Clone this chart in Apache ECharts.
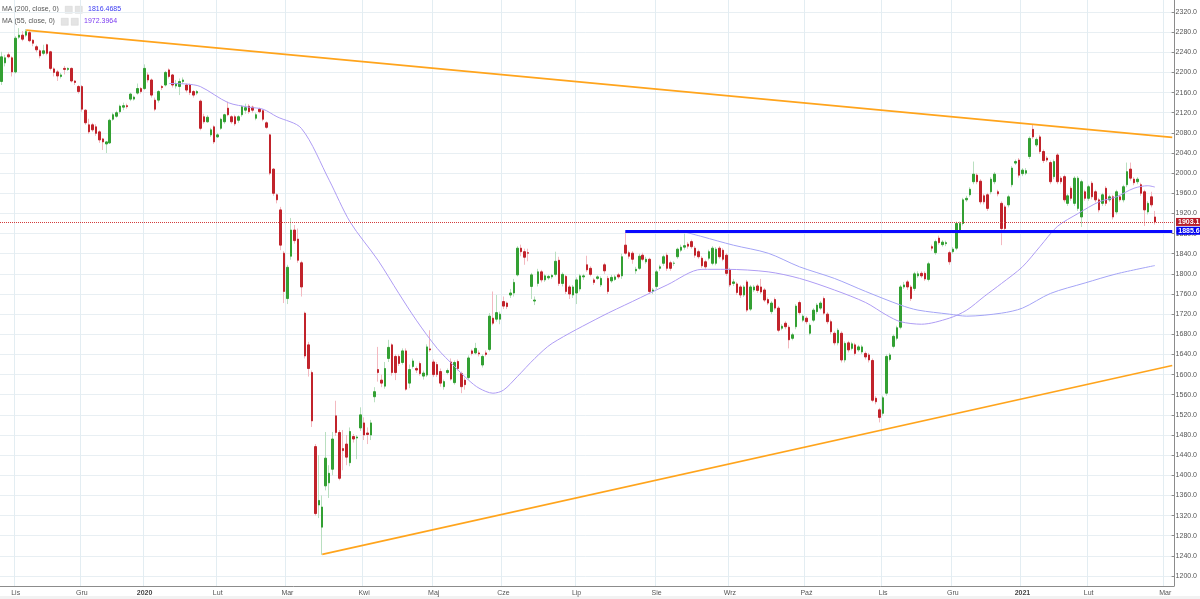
<!DOCTYPE html>
<html><head><meta charset="utf-8">
<script src="https://cdn.jsdelivr.net/npm/echarts@6/dist/echarts.min.js"></script>
<style>html,body{margin:0;padding:0;background:#fff}#c{width:1200px;height:599px}</style>
</head><body><div id="c"></div>
<script>
// ---- data ----
const startDay = '2019-10-28', endDay = '2021-02-26';
const holidays = ['2019-11-01','2019-11-11','2019-12-24','2019-12-25','2019-12-26','2019-12-31','2020-01-01','2020-01-06','2020-04-10','2020-04-13','2020-05-01','2020-06-11','2020-11-11','2020-12-24','2020-12-25','2020-12-31','2021-01-01','2021-01-06'];
const futureDays = ['2021-02-27','2021-02-28','2021-03-01','2021-03-02','2021-03-03'];
const monthNames = ['Sty','Lut','Mar','Kwi','Maj','Cze','Lip','Sie','Wrz','Paź','Lis','Gru'];

const openP = [
2182,2219,2235,2229,2201,2270,2274,2274,2279,2264,
2251,2243,2238,2255,2241,2207,2201,2192,2208,2206,
2208,2183,2172,2172,2125,2096,2096,2092,2082,2068,
2058,2060,2107,2113,2122,2131,2134,2147,2147,2159,
2168,2168,2195,2185,2145,2145,2172,2175,2205,2195,
2173,2172,2182,2175,2175,2162,2159,2143,2112,2102,
2076,2092,2072,2089,2102,2129,2112,2112,2105,2116,
2125,2133,2131,2109,2127,2124,2100,2076,2008,1957,
1927,1841,1751,1835,1887,1869,1822,1722,1659,1604,
1457,1341,1297,1379,1385,1412,1518,1485,1453,1462,
1425,1477,1474,1494,1504,1484,1480,1556,1610,1589,
1577,1632,1659,1636,1636,1624,1647,1583,1616,1612,
1622,1597,1599,1651,1625,1620,1606,1576,1604,1625,
1584,1626,1602,1589,1594,1647,1643,1643,1619,1643,
1650,1712,1710,1710,1745,1742,1758,1762,1798,1851,
1844,1842,1775,1746,1781,1804,1788,1792,1794,1799,
1827,1781,1795,1774,1758,1762,1770,1794,1818,1811,
1788,1791,1778,1818,1791,1786,1789,1798,1796,1857,
1842,1841,1806,1811,1837,1824,1829,1765,1775,1811,
1821,1837,1822,1821,1834,1847,1853,1859,1864,1851,
1844,1831,1824,1831,1821,1821,1851,1847,1837,1808,
1781,1780,1774,1758,1784,1730,1768,1776,1774,1768,
1749,1725,1749,1732,1692,1702,1694,1672,1695,1743,
1708,1712,1682,1708,1725,1732,1751,1720,1705,1682,
1663,1682,1629,1663,1652,1659,1649,1645,1642,1639,
1628,1553,1530,1523,1563,1630,1656,1672,1694,1774,
1784,1774,1771,1796,1801,1801,1789,1854,1842,1871,
1858,1860,1842,1844,1851,1887,1900,1947,1957,1983,
1996,1984,1955,1957,1963,1983,1963,1940,1933,1937,
1977,2020,2026,1999,2000,2033,2087,2056,2072,2043,
2030,2021,1993,2036,1990,1993,1940,1970,1940,1930,
1913,1963,1950,1980,1963,1947,1940,1970,1947,1953,
1923,1953,1947,1977,2008,1988,1983,1977,1963,1923,
1953,1913];
const closeP = [
2231,2229,2231,2201,2268,2274,2266,2281,2263,2258,
2245,2233,2243,2238,2208,2200,2193,2195,2206,2208,
2183,2180,2162,2127,2100,2082,2086,2079,2066,2062,
2062,2105,2116,2120,2133,2134,2132,2157,2151,2168,
2162,2208,2185,2155,2127,2162,2170,2200,2192,2175,
2178,2182,2185,2165,2160,2155,2162,2089,2102,2111,
2086,2062,2076,2107,2116,2116,2102,2098,2112,2132,
2130,2122,2125,2116,2122,2107,2091,2000,1960,1947,
1857,1765,1813,1887,1866,1827,1774,1637,1612,1508,
1324,1350,1337,1434,1404,1472,1485,1394,1449,1436,
1487,1472,1476,1520,1480,1481,1504,1566,1604,1583,
1612,1654,1604,1604,1622,1647,1571,1610,1627,1609,
1602,1603,1655,1649,1600,1600,1583,1586,1608,1591,
1624,1612,1576,1580,1633,1642,1652,1641,1636,1640,
1716,1702,1723,1720,1736,1735,1762,1783,1851,1844,
1833,1841,1798,1748,1804,1788,1796,1795,1797,1825,
1781,1799,1765,1760,1774,1788,1796,1796,1808,1799,
1783,1794,1791,1806,1765,1793,1794,1794,1834,1841,
1835,1829,1809,1835,1829,1829,1765,1768,1804,1814,
1834,1811,1811,1821,1849,1853,1856,1855,1854,1837,
1834,1816,1814,1844,1851,1849,1834,1829,1801,1778,
1784,1763,1758,1774,1728,1774,1774,1767,1764,1748,
1742,1742,1732,1688,1696,1695,1669,1679,1736,1723,
1716,1705,1698,1728,1738,1742,1722,1705,1685,1663,
1688,1629,1662,1649,1661,1642,1655,1655,1635,1629,
1549,1546,1515,1554,1636,1639,1676,1693,1774,1778,
1774,1751,1800,1800,1796,1790,1820,1851,1864,1862,
1863,1862,1824,1849,1900,1900,1947,1950,1968,1998,
1983,1943,1943,1930,1988,1998,1959,1890,1890,1953,
2010,2023,1996,2006,2005,2069,2072,2067,2043,2025,
2026,1983,2023,1983,1983,1947,1955,1950,1990,1990,
1983,1950,1973,1953,1947,1927,1957,1940,1953,1913,
1963,1947,1973,2003,1990,1981,1988,1960,1927,1940,
1937,1903.1];
const highP = [
2241,2235,2240,2232,2272,2288,2282,2286,2284,2266,
2255,2246,2255,2257,2243,2210,2205,2199,2213,2210,
2210,2185,2175,2175,2127,2108,2100,2097,2085,2070,
2064,2108,2120,2124,2136,2140,2138,2160,2154,2178,
2171,2216,2200,2188,2150,2165,2175,2203,2208,2197,
2185,2188,2190,2178,2178,2165,2165,2146,2118,2115,
2090,2095,2080,2110,2118,2142,2115,2116,2115,2135,
2138,2137,2134,2120,2130,2127,2103,2078,2010,1960,
1933,1845,1818,1911,1897,1890,1826,1725,1665,1608,
1462,1440,1360,1486,1420,1486,1548,1490,1490,1480,
1495,1482,1480,1535,1515,1495,1510,1575,1655,1600,
1625,1669,1662,1640,1640,1652,1652,1620,1632,1616,
1626,1608,1660,1688,1630,1625,1612,1590,1612,1632,
1628,1630,1606,1594,1638,1650,1663,1648,1640,1648,
1722,1765,1758,1725,1755,1745,1770,1790,1855,1858,
1850,1850,1802,1755,1810,1808,1800,1798,1800,1844,
1834,1803,1798,1778,1778,1793,1800,1800,1836,1815,
1792,1797,1795,1822,1796,1798,1798,1802,1840,1884,
1846,1845,1814,1840,1842,1834,1832,1772,1808,1818,
1838,1842,1826,1825,1852,1858,1880,1863,1868,1855,
1848,1835,1828,1848,1855,1853,1855,1851,1841,1812,
1790,1784,1778,1778,1788,1778,1778,1780,1790,1772,
1753,1746,1753,1736,1700,1706,1698,1683,1740,1747,
1720,1716,1702,1732,1742,1746,1755,1724,1709,1686,
1692,1686,1666,1667,1665,1663,1659,1659,1646,1643,
1632,1557,1534,1558,1640,1643,1680,1697,1778,1784,
1788,1778,1804,1805,1805,1805,1824,1858,1868,1876,
1867,1866,1846,1853,1904,1904,1951,1955,1972,2023,
2000,1988,1959,1961,1992,2002,1967,1944,1937,1957,
2014,2027,2030,2010,2010,2073,2096,2071,2076,2047,
2034,2025,2027,2040,1994,1997,1959,1974,1994,1994,
1987,1967,1977,1984,1967,1951,1961,1974,1957,1957,
1967,1957,1977,2021,2021,1992,1992,1981,1967,1944,
1963,1925];
const lowP = [
2175,2212,2228,2192,2198,2266,2262,2270,2260,2252,
2240,2228,2234,2234,2204,2192,2183,2188,2196,2203,
2180,2175,2158,2122,2096,2078,2082,2074,2060,2046,
2040,2058,2104,2110,2118,2125,2128,2143,2144,2156,
2158,2165,2180,2150,2123,2140,2165,2172,2188,2170,
2168,2155,2178,2160,2155,2150,2155,2085,2098,2100,
2072,2058,2070,2086,2098,2113,2098,2094,2100,2112,
2118,2118,2120,2105,2119,2103,2088,1996,1955,1940,
1847,1742,1740,1828,1860,1822,1755,1632,1596,1496,
1320,1315,1242,1370,1355,1400,1478,1390,1410,1420,
1418,1465,1432,1488,1470,1462,1470,1545,1586,1575,
1572,1625,1598,1589,1617,1620,1568,1573,1612,1603,
1598,1590,1595,1645,1595,1595,1576,1570,1600,1588,
1580,1608,1563,1570,1590,1638,1640,1636,1614,1636,
1646,1698,1705,1700,1730,1730,1752,1755,1795,1835,
1818,1825,1750,1738,1775,1783,1784,1788,1790,1795,
1776,1775,1760,1750,1752,1740,1765,1788,1804,1795,
1778,1788,1774,1800,1760,1782,1786,1790,1790,1838,
1830,1820,1800,1808,1825,1820,1760,1760,1770,1806,
1816,1806,1806,1816,1830,1843,1848,1850,1850,1832,
1830,1812,1810,1827,1817,1817,1830,1825,1796,1774,
1776,1758,1752,1754,1724,1726,1764,1762,1760,1744,
1738,1720,1728,1684,1688,1690,1652,1668,1690,1718,
1704,1700,1678,1704,1720,1728,1718,1700,1680,1658,
1658,1624,1624,1644,1648,1638,1645,1641,1630,1624,
1545,1541,1505,1518,1558,1626,1652,1668,1690,1770,
1768,1746,1766,1792,1792,1786,1785,1846,1838,1858,
1854,1855,1818,1840,1847,1883,1896,1943,1953,1978,
1978,1938,1938,1925,1958,1978,1954,1857,1886,1932,
1972,2016,1991,1994,1996,2028,2068,2052,2038,2020,
2022,1978,1988,1978,1978,1942,1935,1945,1935,1925,
1893,1945,1945,1948,1942,1922,1935,1935,1943,1908,
1918,1943,1942,1972,1985,1976,1978,1955,1895,1918,
1932,1898];

// moving averages at sample bars (index, value)
const ma55Idx = [48,53,57,65,71,75,79,86,94,100,108,114,119,125,130,134,137,141,144,148,153,158,172,181,191,201,208,220,229,239,248,254,258,264,272,277,282,287,293,298,303,309,315,320,325,329,331];
const ma55Val = [2178,2177,2172,2140,2131,2127,2112,2089,1986,1903,1827,1761,1708,1652,1616,1589,1573,1563,1569,1596,1632,1662,1715,1745,1778,1809,1809,1804,1791,1768,1743,1718,1705,1700,1712,1728,1755,1781,1814,1854,1894,1920,1943,1953,1970,1975,1972.3964];
const ma200Idx = [194,201,210,220,229,239,248,258,263,272,277,287,293,301,311,320,331];
const ma200Val = [1887,1874,1857,1841,1814,1791,1765,1738,1728,1720,1716,1722,1732,1761,1782,1800,1816.4685];
const ma200Last = 1816.4685, ma55Last = 1972.3964;

const lastClose = 1903.1;
const supportLevel = 1885.6, supportFromIdx = 179, lineToIdx = 336;
const trendTop = [[7, 2284], [336, 2071]];
const trendBottom = [[92, 1243], [336, 1618]];
const yMin = 1200, yMax = 2320, yStep = 40;

// ---- build categories ----
function buildDates() {
  const hol = new Set(holidays), out = [];
  let d = new Date(startDay + 'T00:00:00Z');
  const end = new Date(endDay + 'T00:00:00Z');
  while (d <= end) {
    const wd = d.getUTCDay(), s = d.toISOString().slice(0, 10);
    if (wd !== 0 && wd !== 6 && !hol.has(s)) out.push(s);
    d = new Date(d.getTime() + 86400000);
  }
  return out.concat(futureDays);
}
const dates = buildDates();
const isMonthStart = i => i > 0 && dates[i].slice(0, 7) !== dates[i - 1].slice(0, 7);

const ohlc = openP.map((o, i) => [o, closeP[i], lowP[i], highP[i]]);
const bodies = openP.map((o, i) => [o, closeP[i], Math.min(o, closeP[i]), Math.max(o, closeP[i])]);
function sparse(idx, val) {
  const a = new Array(openP.length).fill(null);
  idx.forEach((k, j) => { a[k] = val[j]; });
  return a;
}

// pixel layout: labels grid (1200 at y576, 2320 at y12); data grid top 0..586
const pxPerUnit = 564 / (yMax - yMin);
const dMin = yMin - 10 / pxPerUnit, dMax = dMin + 586 / pxPerUnit;

const chart = echarts.init(document.getElementById('c'), null, { renderer: 'canvas' });
const tagLabel = (txt, bg, dist) => ({ show: true, position: 'end', distance: dist, formatter: () => txt, color: '#fff', backgroundColor: bg, padding: [1, 2, 0, 2], fontSize: 7, fontWeight: 'bold' });
const option = {
  animation: false,
  textStyle: { fontFamily: 'Liberation Sans, Arial, sans-serif' },
  grid: [
    { left: 0, right: 26, top: 0, bottom: 13 },
    { left: 0, right: 26, top: 12, bottom: 23 }
  ],
  xAxis: [
    {
      type: 'category', gridIndex: 0, data: dates, boundaryGap: true,
      axisLine: { lineStyle: { color: '#8c8c8c', width: 1 } },
      axisTick: { interval: (i) => isMonthStart(i), alignWithLabel: true, length: 3, lineStyle: { color: '#8c8c8c' } },
      axisLabel: {
        interval: (i) => isMonthStart(i), margin: 4, fontSize: 7, color: '#555',
        formatter: (v) => { const m = +v.slice(5, 7) - 1; return m === 0 ? '{b|' + v.slice(0, 4) + '}' : monthNames[m]; },
        rich: { b: { fontWeight: 'bold', fontSize: 7, color: '#444' } }
      },
      splitLine: { show: true, interval: (i) => isMonthStart(i), lineStyle: { color: '#e3edf2', width: 1 } }
    },
    { type: 'value', gridIndex: 1, min: 1, max: 2, show: false }
  ],
  yAxis: [
    {
      type: 'value', gridIndex: 0, position: 'right', min: dMin, max: dMax,
      axisLine: { show: true, onZero: false, lineStyle: { color: '#8c8c8c' } },
      axisTick: { show: false }, axisLabel: { show: false }, splitLine: { show: false }
    },
    {
      type: 'value', gridIndex: 1, position: 'right', min: yMin, max: yMax, interval: yStep,
      axisLine: { show: false, onZero: false },
      axisTick: { show: true, length: 3, lineStyle: { color: '#8c8c8c' } },
      axisLabel: { margin: 4, fontSize: 7, color: '#555', formatter: v => v.toFixed(1) },
      splitLine: { show: true, lineStyle: { color: '#e8eff3', width: 1 } }
    }
  ],
  series: [
    {
      name: 'wicks', type: 'candlestick', xAxisIndex: 0, yAxisIndex: 0, data: ohlc,
      barWidth: 1, clip: false, z: 2,
      itemStyle: { color: '#b9dfc0', color0: '#f3b9c0', borderColor: '#b9dfc0', borderColor0: '#f3b9c0', borderWidth: 1 },
      markLine: {
        symbol: ['none', 'none'], silent: true, animation: false,
        data: [
          [{ coord: trendTop[0] }, { coord: trendTop[1], lineStyle: { color: '#ffa41c', width: 1.6, type: 'solid' }, label: { show: false } }],
          [{ coord: trendBottom[0] }, { coord: trendBottom[1], lineStyle: { color: '#ffa41c', width: 1.6, type: 'solid' }, label: { show: false } }],
          { yAxis: lastClose, lineStyle: { color: '#d23c3c', width: 1, type: [1, 1] }, label: tagLabel(lastClose.toFixed(1), '#b81f2b', 2) },
          [{ coord: [supportFromIdx, supportLevel] }, { coord: [lineToIdx, supportLevel], lineStyle: { color: '#0a0aff', width: 3, type: 'solid' }, label: tagLabel(supportLevel.toFixed(1), '#0000f0', 4) }]
        ]
      }
    },
    {
      name: 'bodies', type: 'candlestick', xAxisIndex: 0, yAxisIndex: 0, data: bodies,
      barWidth: 2, z: 3,
      itemStyle: { color: '#33a033', color0: '#c1232b', borderColor: '#33a033', borderColor0: '#c1232b', borderWidth: 1 }
    },
    {
      name: 'MA200', type: 'line', xAxisIndex: 0, yAxisIndex: 0, data: sparse(ma200Idx, ma200Val),
      connectNulls: true, showSymbol: false, smooth: 0.3, z: 4,
      lineStyle: { color: '#a4a4f6', width: 1 }
    },
    {
      name: 'MA55', type: 'line', xAxisIndex: 0, yAxisIndex: 0, data: sparse(ma55Idx, ma55Val),
      connectNulls: true, showSymbol: false, smooth: 0.3, z: 4,
      lineStyle: { color: '#ae9cf4', width: 1 }
    }
  ],
  graphic: [
    { type: 'rect', left: 0, top: 596, shape: { width: 1200, height: 3 }, style: { fill: '#f2f2f2' }, silent: true },
    { type: 'text', left: 2, top: 6, style: { text: 'MA (200, close, 0)', fill: '#555', font: '7px Liberation Sans' } },
    { type: 'rect', left: 65, top: 6, shape: { width: 7, height: 7 }, style: { fill: '#e4e4e4', stroke: '#d0d0d0', lineWidth: 0.5 } },
    { type: 'rect', left: 75, top: 6, shape: { width: 7, height: 7 }, style: { fill: '#e4e4e4', stroke: '#d0d0d0', lineWidth: 0.5 } },
    { type: 'text', left: 88, top: 6, style: { text: ma200Last.toFixed(4), fill: '#3a3af2', font: '7px Liberation Sans' } },
    { type: 'text', left: 2, top: 18, style: { text: 'MA (55, close, 0)', fill: '#555', font: '7px Liberation Sans' } },
    { type: 'rect', left: 61, top: 18, shape: { width: 7, height: 7 }, style: { fill: '#e4e4e4', stroke: '#d0d0d0', lineWidth: 0.5 } },
    { type: 'rect', left: 71, top: 18, shape: { width: 7, height: 7 }, style: { fill: '#e4e4e4', stroke: '#d0d0d0', lineWidth: 0.5 } },
    { type: 'text', left: 84, top: 18, style: { text: ma55Last.toFixed(4), fill: '#7b3cf0', font: '7px Liberation Sans' } }
  ]
};
chart.setOption(option);
</script>
</body></html>
